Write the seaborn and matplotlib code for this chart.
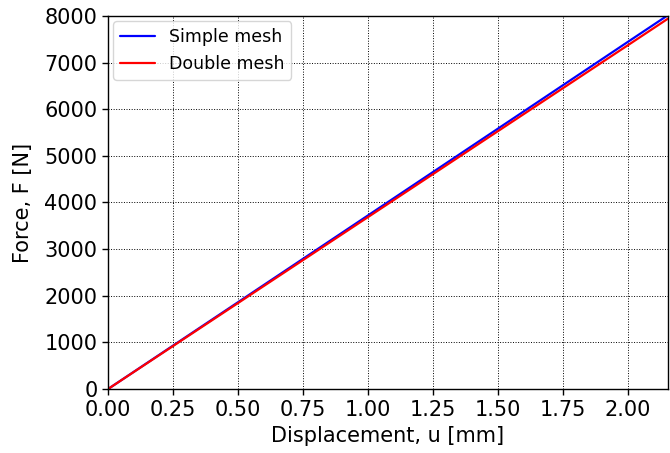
import numpy as np
import pandas as pd
import matplotlib
matplotlib.use('Agg')
import matplotlib.pyplot as plt
import seaborn as sns

# displacement [mm] and force [N]
disp = [0.0, 0.25, 0.5, 0.75, 1.0, 1.25, 1.5, 1.75, 2.0, 2.155]
force_simple = [0, 930, 1860, 2790, 3720, 4650, 5580, 6510, 7440, 8015]
force_double = [0, 921, 1842, 2763, 3684, 4605, 5526, 6447, 7368, 7940]
labels = ['Simple mesh', 'Double mesh']


def main():
    df = pd.concat([
        pd.DataFrame({'u': disp, 'F': force_simple, 'mesh': labels[0]}),
        pd.DataFrame({'u': disp, 'F': force_double, 'mesh': labels[1]}),
    ])

    sns.set_style('ticks')
    plt.rcParams['font.family'] = ['DejaVu Sans']
    plt.rcParams['text.color'] = 'black'
    plt.rcParams['axes.labelcolor'] = 'black'

    fig = plt.figure(figsize=(6.7, 4.53), dpi=100)
    ax = fig.add_axes([0.161, 0.141, 0.836, 0.824])

    sns.lineplot(data=df, x='u', y='F', hue='mesh', palette=['blue', 'red'],
                 linewidth=1.6, ax=ax, sort=False)

    ax.set_xlim(0, 2.155)
    ax.set_ylim(0, 8000)
    ax.set_xticks(np.arange(0, 2.01, 0.25))
    ax.set_yticks(np.arange(0, 8001, 1000))
    ax.tick_params(labelsize=15, direction='out', length=4, width=1, colors='black')
    ax.set_xlabel('Displacement, u [mm]', fontsize=15, color='black', labelpad=5)
    ax.set_ylabel('Force, F [N]', fontsize=15, color='black', labelpad=8)
    ax.grid(True, color='black', linestyle=':', linewidth=0.7)
    for s in ax.spines.values():
        s.set_color('black')
        s.set_linewidth(1.0)

    leg = ax.legend(loc='upper left', fontsize=12.5, title=None, frameon=True,
                    borderaxespad=0.3)
    for t in leg.get_texts():
        t.set_color('black')

    fig.savefig('out.png', dpi=100)
    plt.close('all')


if __name__ == '__main__':
    main()
